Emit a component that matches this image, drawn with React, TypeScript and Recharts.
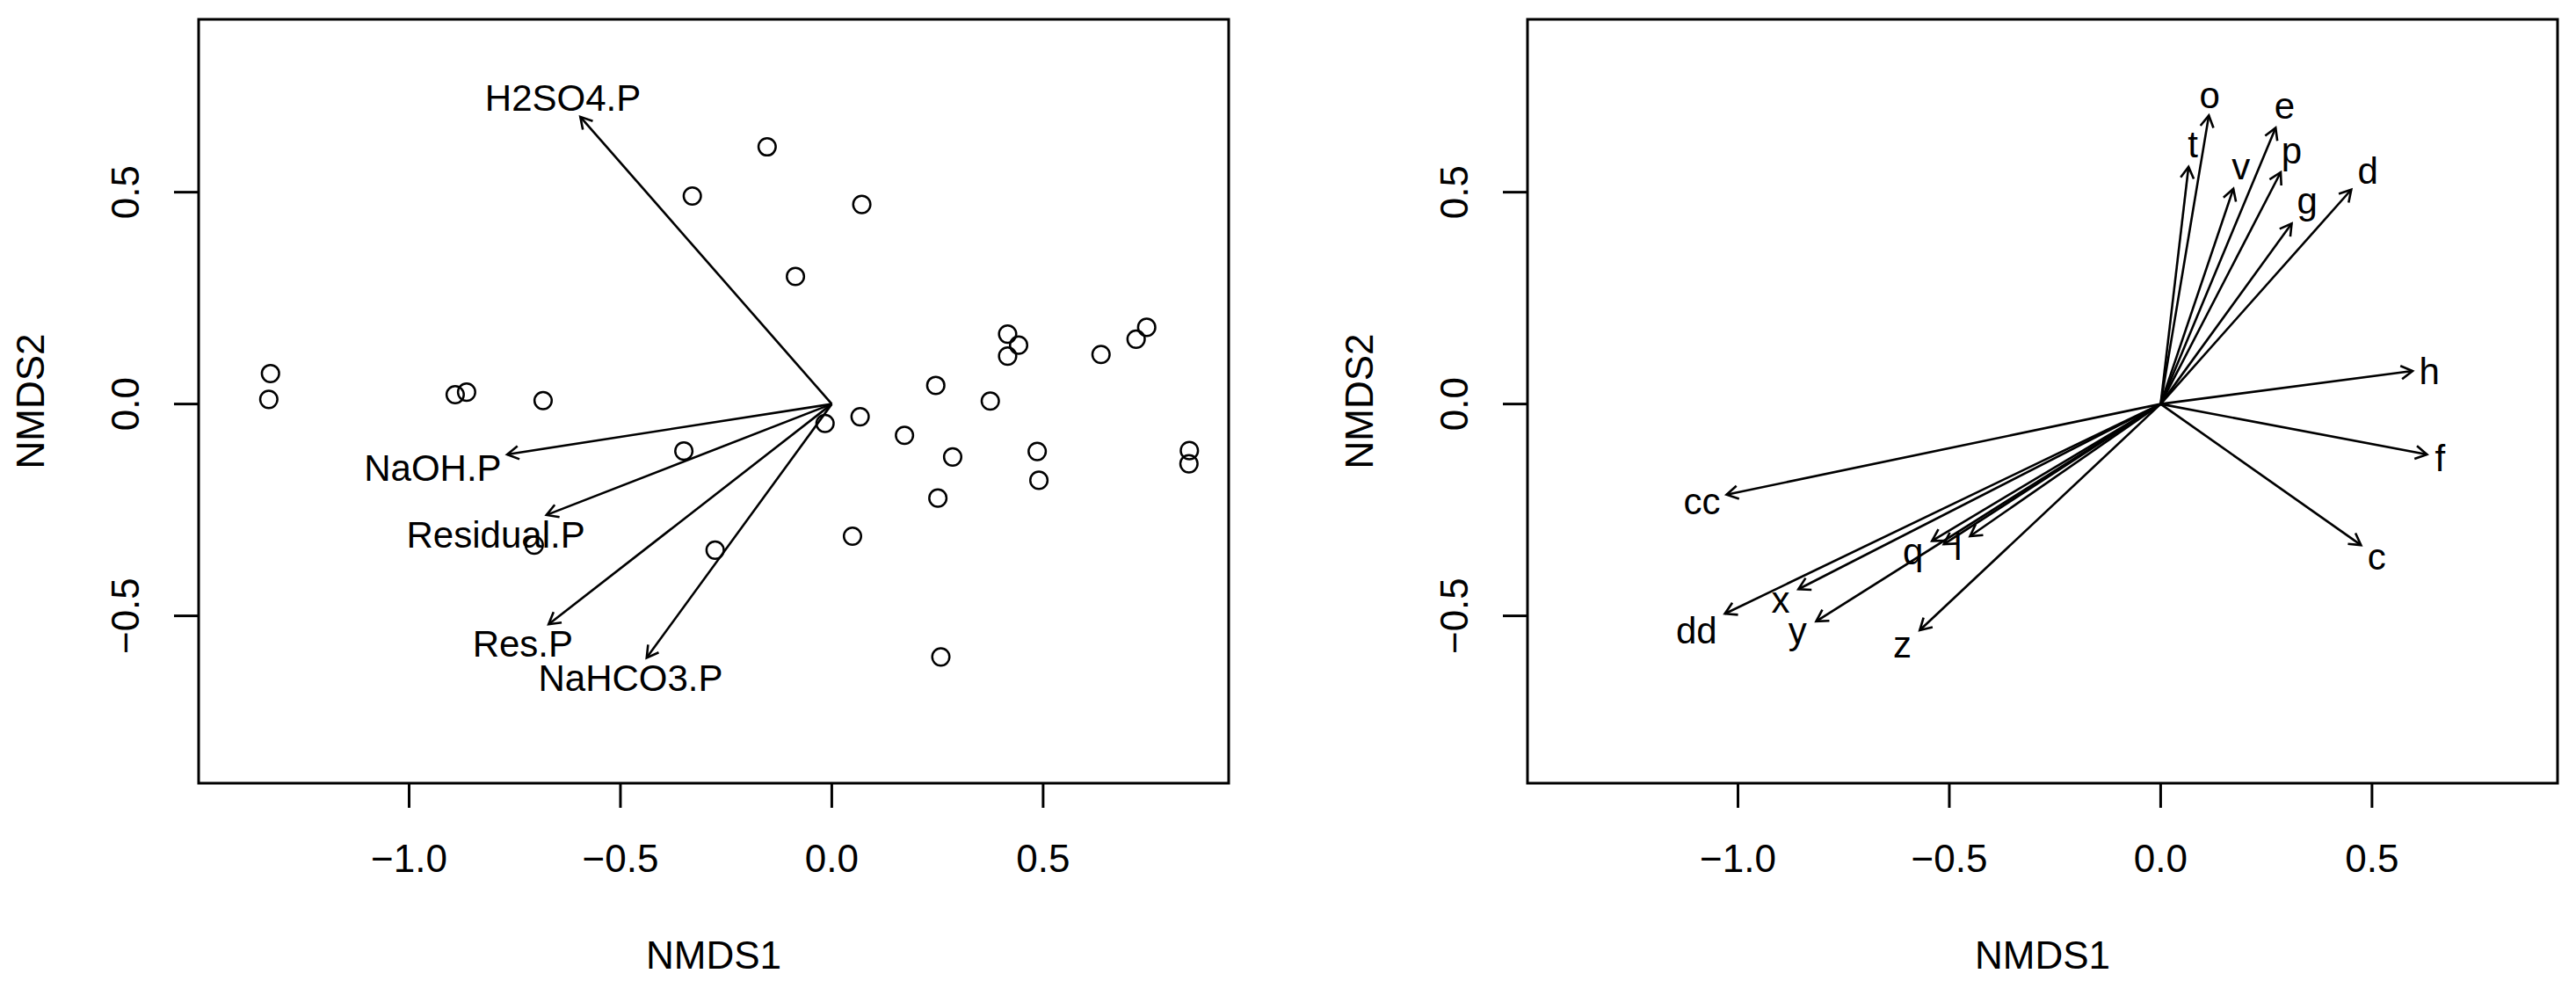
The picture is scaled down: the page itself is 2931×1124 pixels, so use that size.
import React from 'react';
import { ScatterChart, Scatter, XAxis, YAxis, ReferenceLine, ReferenceArea } from 'recharts';

const FONT = '"Liberation Sans", Arial, Helvetica, sans-serif';
const H = 1124;

// axis ticks / domains (NMDS units)
const xTicks = [-1.0, -0.5, 0.0, 0.5];
const yTicks = [-0.5, 0.0, 0.5];
const xDomain: [number, number] = [-1.498, 0.939];
const yDomain: [number, number] = [-0.895, 0.908];

// site scores (left panel)
const siteNMDS1 = [
  -1.328, -1.332, -0.891, -0.864, -0.683, -0.350, -0.704, -0.276, -0.330, -0.153,
  0.071, -0.086, -0.016, 0.067, 0.172, 0.286, 0.246, 0.251, 0.049, 0.258,
  0.375, 0.416, 0.442, 0.416, 0.486, 0.490, 0.637, 0.720, 0.745, 0.846, 0.845,
];
const siteNMDS2 = [
  0.072, 0.011, 0.022, 0.028, 0.008, -0.111, -0.333, -0.345, 0.491, 0.607,
  0.471, 0.301, -0.046, -0.030, -0.074, -0.125, 0.044, -0.222, -0.312, -0.597,
  0.007, 0.165, 0.139, 0.113, -0.112, -0.180, 0.117, 0.153, 0.181, -0.110, -0.141,
];

// environmental vectors (left panel)
const envNames = ['H2SO4.P', 'NaOH.P', 'Residual.P', 'Res.P', 'NaHCO3.P'];
const envNMDS1 = [-0.595, -0.768, -0.675, -0.670, -0.438];
const envNMDS2 = [0.678, -0.119, -0.262, -0.520, -0.599];
const envLabelNMDS1 = [-0.636, -0.944, -0.795, -0.731, -0.476];
const envLabelNMDS2 = [0.723, -0.150, -0.308, -0.565, -0.647];

// species vectors (right panel)
const spNames = ['o', 't', 'v', 'e', 'p', 'g', 'd', 'h', 'f', 'c', 'cc', 'dd', 'x', 'y', 'z', 'q', '', 'l'];
const spNMDS1 = [0.114, 0.066, 0.172, 0.272, 0.284, 0.310, 0.451, 0.596, 0.630, 0.474, -1.027, -1.031, -0.857, -0.815, -0.570, -0.541, -0.513, -0.451];
const spNMDS2 = [0.681, 0.560, 0.508, 0.652, 0.547, 0.426, 0.506, 0.078, -0.119, -0.333, -0.214, -0.495, -0.437, -0.513, -0.534, -0.323, -0.331, -0.312];
const spLabelNMDS1 = [0.116, 0.076, 0.190, 0.293, 0.310, 0.347, 0.490, 0.636, 0.661, 0.511, -1.085, -1.098, -0.899, -0.859, -0.611, -0.586, -0.586, -0.480];
const spLabelNMDS2 = [0.729, 0.612, 0.560, 0.704, 0.599, 0.480, 0.551, 0.078, -0.127, -0.360, -0.229, -0.534, -0.461, -0.534, -0.567, -0.347, -0.347, -0.337];

const sites = siteNMDS1.map((x, i) => ({ x, y: siteNMDS2[i] }));
const envArrows = envNames.map((n, i) => ({ name: n, x: envNMDS1[i], y: envNMDS2[i] }));
const envLabels = envNames.map((n, i) => ({ label: n, x: envLabelNMDS1[i], y: envLabelNMDS2[i] }));
const spArrows = spNames.map((n, i) => ({ name: n, x: spNMDS1[i], y: spNMDS2[i] }));
const spLabels = spNames
  .map((n, i) => ({ label: n, x: spLabelNMDS1[i], y: spLabelNMDS2[i] }))
  .filter((d) => d.label !== '');

const fmt = (v: number) => v.toFixed(1).replace('-', '\u2212');

const XTick = (props: any) => {
  const { x, y, payload } = props;
  return (
    <g>
      <line x1={x} y1={y} x2={x} y2={y + 28} stroke="#000" strokeWidth={3} />
      <text x={x} y={y + 101} textAnchor="middle" fontSize={44} fontFamily={FONT} fill="#000">
        {fmt(payload.value)}
      </text>
    </g>
  );
};

const YTick = (props: any) => {
  const { x, y, payload } = props;
  const tx = x - 68;
  return (
    <g>
      <line x1={x} y1={y} x2={x - 28} y2={y} stroke="#000" strokeWidth={3} />
      <text
        x={tx}
        y={y}
        transform={`rotate(-90, ${tx}, ${y})`}
        textAnchor="middle"
        fontSize={44}
        fontFamily={FONT}
        fill="#000"
      >
        {fmt(payload.value)}
      </text>
    </g>
  );
};

const XTitle = (props: any) => {
  const vb = props.viewBox || {};
  const cx = (vb.x ?? 226) + (vb.width ?? 1172) / 2;
  const y0 = vb.y ?? 891;
  return (
    <text x={cx} y={y0 + 211} textAnchor="middle" fontSize={44} fontFamily={FONT} fill="#000">
      NMDS1
    </text>
  );
};

const YTitle = (props: any) => {
  const vb = props.viewBox || {};
  const cy = (vb.y ?? 22) + (vb.height ?? 869) / 2;
  const tx = 50;
  return (
    <text
      x={tx}
      y={cy}
      transform={`rotate(-90, ${tx}, ${cy})`}
      textAnchor="middle"
      fontSize={44}
      fontFamily={FONT}
      fill="#000"
    >
      NMDS2
    </text>
  );
};

const ArrowShape = (props: any) => {
  const { x1, y1, x2, y2 } = props;
  if ([x1, y1, x2, y2].some((v) => typeof v !== 'number' || isNaN(v))) return <g />;
  const ang = Math.atan2(y2 - y1, x2 - x1);
  const L = 15;
  const a = Math.PI / 6;
  const ax = x2 - L * Math.cos(ang - a);
  const ay = y2 - L * Math.sin(ang - a);
  const bx = x2 - L * Math.cos(ang + a);
  const by = y2 - L * Math.sin(ang + a);
  return (
    <g>
      <line x1={x1} y1={y1} x2={x2} y2={y2} stroke="#000" strokeWidth={2.6} />
      <polyline
        points={`${ax},${ay} ${x2},${y2} ${bx},${by}`}
        fill="none"
        stroke="#000"
        strokeWidth={2.6}
      />
    </g>
  );
};

const SiteCircle = (props: any) => {
  const { cx, cy } = props;
  return <circle cx={cx} cy={cy} r={9.8} fill="none" stroke="#000" strokeWidth={2.5} />;
};

const LabelText = (props: any) => {
  const { cx, cy, payload } = props;
  return (
    <text x={cx} y={cy} dy="0.35em" textAnchor="middle" fontSize={42} fontFamily={FONT} fill="#000">
      {payload.label}
    </text>
  );
};

type PanelProps = {
  left: number;
  width: number;
  marginRight: number;
  points?: { x: number; y: number }[];
  arrows: { name: string; x: number; y: number }[];
  labels: { label: string; x: number; y: number }[];
};

function Panel({ left, width, marginRight, points, arrows, labels }: PanelProps) {
  return (
    <div style={{ position: 'absolute', left, top: 0, width, height: H }}>
      <ScatterChart width={width} height={H} margin={{ top: 22, right: marginRight, bottom: 0, left: 0 }}>
        <XAxis
          type="number"
          dataKey="x"
          domain={xDomain}
          ticks={xTicks}
          allowDataOverflow
          height={233}
          tickSize={0}
          tickMargin={0}
          axisLine={false}
          tickLine={false}
          interval={0}
          tick={XTick}
          label={{ value: 'NMDS1', content: XTitle }}
        />
        <YAxis
          type="number"
          dataKey="y"
          domain={yDomain}
          ticks={yTicks}
          allowDataOverflow
          width={226}
          tickSize={0}
          tickMargin={0}
          axisLine={false}
          tickLine={false}
          interval={0}
          tick={YTick}
          label={{ value: 'NMDS2', content: YTitle }}
        />
        <ReferenceArea
          x1={xDomain[0]}
          x2={xDomain[1]}
          y1={yDomain[0]}
          y2={yDomain[1]}
          fill="none"
          fillOpacity={0}
          stroke="#000"
          strokeWidth={3}
          ifOverflow="visible"
        />
        {points && <Scatter data={points} shape={SiteCircle} isAnimationActive={false} />}
        {arrows.map((a, i) => (
          <ReferenceLine
            key={i}
            segment={[{ x: 0, y: 0 }, { x: a.x, y: a.y }]}
            shape={ArrowShape}
            ifOverflow="visible"
          />
        ))}
        <Scatter data={labels} shape={LabelText} isAnimationActive={false} />
      </ScatterChart>
    </div>
  );
}

export default function App() {
  return (
    <div style={{ position: 'absolute', left: 0, top: 0, width: 2931, height: H, background: '#fff' }}>
      <Panel left={0} width={1465} marginRight={67} points={sites} arrows={envArrows} labels={envLabels} />
      <Panel left={1512} width={1419} marginRight={21} arrows={spArrows} labels={spLabels} />
    </div>
  );
}
